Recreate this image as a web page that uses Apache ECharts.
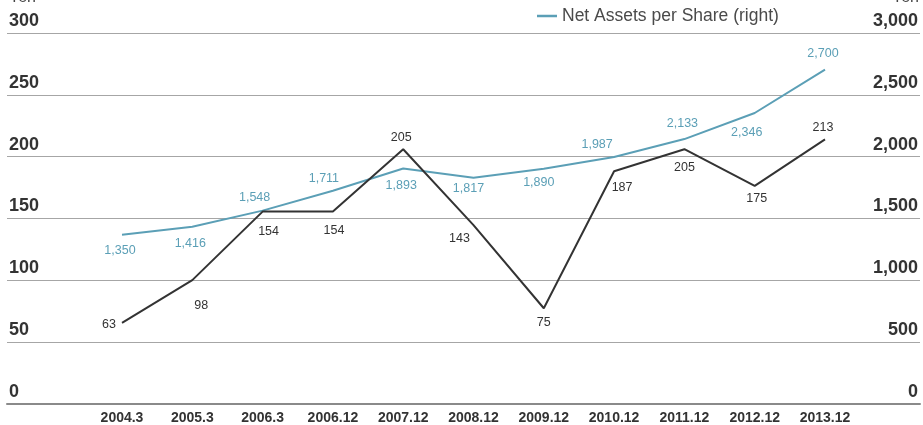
<!DOCTYPE html>
<html>
<head>
<meta charset="utf-8">
<script src="https://cdn.jsdelivr.net/npm/echarts@6/dist/echarts.min.js"></script>
<style>
  html, body { margin: 0; padding: 0; background: #fff; }
  #chart { width: 923px; height: 425px; }
</style>
</head>
<body>
<div id="chart"></div>
<script>
// Fiscal periods on the horizontal axis
const periods = ['2004.3', '2005.3', '2006.3', '2006.12', '2007.12', '2008.12', '2009.12', '2010.12', '2011.12', '2012.12', '2013.12'];

// Net income per share, yen (left axis)
const netIncomePerShare = [63, 98, 154, 154, 205, 143, 75, 187, 205, 175, 213];

// Net assets per share, yen (right axis)
const netAssetsPerShare = [1350, 1416, 1548, 1711, 1893, 1817, 1890, 1987, 2133, 2346, 2700];

// Axis ranges
const leftTicks = [0, 50, 100, 150, 200, 250, 300];
const rightTicks = [0, 500, 1000, 1500, 2000, 2500, 3000];

// Label nudges [dx, dy] from each point, so labels sit clear of the lines
const incomeLabelShift = [[-13, 2], [9, 25], [6, 20], [1, 19], [-2, -12], [-14, 13], [0, 14], [8, 16], [0, 18], [2, 13], [-2, -12]];
const assetsLabelShift = [[-2, 16], [-2, 17], [-8, -13], [-9, -12], [-2, 17], [-5, 11], [-5, 14], [-17, -12], [-2, -16], [-8, 20], [-2, -16]];

const DARK = '#333333';
const BLUE = '#5b9fb6';
const FONT = '"Liberation Sans", Arial, sans-serif';
const fmt = v => v.toLocaleString('en-US');

function withLabels(values, shifts, color) {
  return values.map((v, i) => ({
    value: v,
    label: {
      show: true,
      position: 'inside',
      offset: shifts[i],
      formatter: p => fmt(p.value),
      color: color,
      fontFamily: FONT,
      fontSize: 12.5
    }
  }));
}

const chart = echarts.init(document.getElementById('chart'), null, { renderer: 'canvas' });

const gridTop = 33, gridBottom = 21;

chart.setOption({
  animation: false,
  backgroundColor: '#ffffff',
  textStyle: { fontFamily: FONT },
  legend: {
    data: ['Net Assets per Share (right)'],
    left: 532,
    top: 2,
    icon: 'rect',
    itemWidth: 20,
    itemHeight: 2.5,
    itemGap: 20,
    textStyle: { fontSize: 17.5, color: '#4a4a4a', fontFamily: FONT }
  },
  graphic: [
    { type: 'text', left: 9, top: -10, style: { text: 'Yen', fontSize: 16, fill: '#444', fontFamily: FONT } },
    { type: 'text', right: 4, top: -10, style: { text: 'Yen', fontSize: 16, fill: '#444', fontFamily: FONT } }
  ],
  grid: [
    // full-width frame carrying the scale rules and tick labels
    { left: 7, right: 3, top: gridTop, bottom: gridBottom },
    // plotting area spanning the first to the last period
    { left: 122, right: 98, top: gridTop, bottom: gridBottom }
  ],
  xAxis: [
    {
      gridIndex: 0, type: 'category', data: [''],
      axisLine: { show: true, lineStyle: { color: '#8a8a8a', width: 2 } },
      axisTick: { show: false }, axisLabel: { show: false }, splitLine: { show: false }
    },
    {
      gridIndex: 1, type: 'category', data: periods, boundaryGap: false,
      axisLine: { show: false }, axisTick: { show: false },
      axisLabel: {
        interval: 0, margin: 11, verticalAlign: 'top', color: '#333',
        fontFamily: FONT, fontWeight: 'bold', fontSize: 14
      }
    }
  ],
  yAxis: [
    {
      gridIndex: 0, type: 'value', position: 'left',
      min: leftTicks[0], max: leftTicks[leftTicks.length - 1], interval: leftTicks[1] - leftTicks[0],
      axisLine: { show: false }, axisTick: { show: false },
      axisLabel: {
        inside: true, margin: 2, align: 'left', verticalAlign: 'bottom',
        padding: [0, 0, 3, 0], color: '#333', fontWeight: 'bold', fontSize: 18,
        formatter: v => fmt(v)
      },
      splitLine: { show: true, lineStyle: { color: '#a6a6a6', width: 1.2 } }
    },
    {
      gridIndex: 0, type: 'value', position: 'right',
      min: rightTicks[0], max: rightTicks[rightTicks.length - 1], interval: rightTicks[1] - rightTicks[0],
      axisLine: { show: false }, axisTick: { show: false },
      axisLabel: {
        inside: true, margin: 2, align: 'right', verticalAlign: 'bottom',
        padding: [0, 0, 3, 0], color: '#333', fontWeight: 'bold', fontSize: 18,
        formatter: v => fmt(v)
      },
      splitLine: { show: false }
    },
    {
      gridIndex: 1, type: 'value', min: leftTicks[0], max: leftTicks[leftTicks.length - 1],
      show: false, splitLine: { show: false }
    },
    {
      gridIndex: 1, type: 'value', min: rightTicks[0], max: rightTicks[rightTicks.length - 1],
      show: false, splitLine: { show: false }
    }
  ],
  series: [
    {
      name: 'Net Income per Share (left)',
      type: 'line',
      xAxisIndex: 1, yAxisIndex: 2,
      data: withLabels(netIncomePerShare, incomeLabelShift, DARK),
      symbol: 'circle', symbolSize: 0.1,
      lineStyle: { color: DARK, width: 2 },
      itemStyle: { color: DARK },
      z: 3
    },
    {
      name: 'Net Assets per Share (right)',
      type: 'line',
      xAxisIndex: 1, yAxisIndex: 3,
      data: withLabels(netAssetsPerShare, assetsLabelShift, BLUE),
      symbol: 'circle', symbolSize: 0.1,
      lineStyle: { color: BLUE, width: 2 },
      itemStyle: { color: BLUE },
      z: 2
    }
  ]
});
</script>
</body>
</html>
